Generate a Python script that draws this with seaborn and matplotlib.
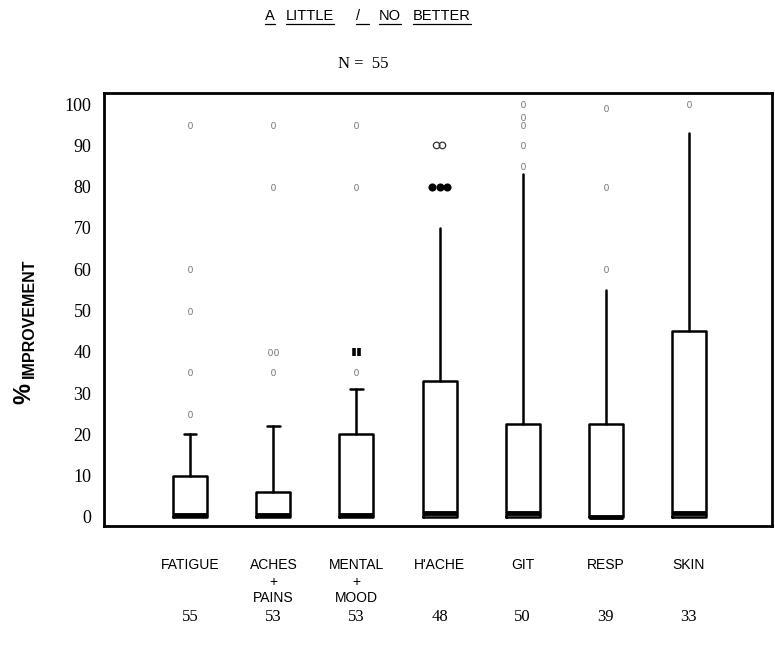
import matplotlib
matplotlib.use("Agg")
import matplotlib.pyplot as plt
import pandas as pd
import seaborn as sns

# box summaries (% improvement)
categories = ["FATIGUE", "ACHES\n+\nPAINS", "MENTAL\n+\nMOOD", "H'ACHE", "GIT", "RESP", "SKIN"]
counts = [55, 53, 53, 48, 50, 39, 33]
whisker_lo = [0, 0, 0, 0, 0, 0, 0]
q1 = [0, 0, 0, 0, 0, 0, 0]
median = [0.5, 0.5, 0.5, 1, 1, 0, 1]
q3 = [10, 6, 20, 33, 22.5, 22.5, 45]
whisker_hi = [20, 22, 31, 70, 83, 55, 93]
outliers = [
    [95, 60, 50, 35, 25],
    [95, 80, 40, 40, 35],
    [95, 80, 40, 40, 35],
    [90, 90, 80, 80, 80],
    [100, 97, 95, 90, 85],
    [99, 80, 60],
    [100],
]
outlier_kind = [
    ["o", "o", "o", "o", "o"],
    ["o", "o", "o", "o", "o"],
    ["o", "o", "bar", "bar", "o"],
    ["open", "open", "dot", "dot", "dot"],
    ["o", "o", "o", "o", "o"],
    ["o", "o", "o"],
    ["o"],
]
y_ticks = [0, 10, 20, 30, 40, 50, 60, 70, 80, 90, 100]
title_words = ["A", "LITTLE", "/", "NO", "BETTER"]
subtitle = "N =  55"

sns.set_style("white")
plt.rcParams["font.family"] = ["Liberation Sans", "DejaVu Sans"]
plt.rcParams["text.color"] = "black"
plt.rcParams["xtick.color"] = "black"
plt.rcParams["ytick.color"] = "black"
SERIF = ["Liberation Serif", "DejaVu Serif"]

fig = plt.figure(figsize=(7.75, 6.57), dpi=100)
ax = fig.add_axes([0.134, 0.1994, 0.862, 0.659])

stats = [
    dict(whislo=whisker_lo[i], q1=q1[i], med=median[i], q3=q3[i], whishi=whisker_hi[i], fliers=[])
    for i in range(len(categories))
]
art = ax.bxp(
    stats,
    positions=list(range(len(categories))),
    widths=0.41,
    showfliers=False,
    boxprops=dict(color="black", lw=1.8),
    whiskerprops=dict(color="black", lw=1.8),
    capprops=dict(color="black", lw=1.8),
    medianprops=dict(color="black", lw=3.5),
    capwidths=0.15,
)
for i, cap in enumerate(art["caps"]):
    # lower caps sit at zero; upper caps only visible on the first three
    if i % 2 == 0 or i // 2 > 2:
        cap.set_visible(False)

# outlier points, spread sideways when values repeat
rows = []
for i, (vals, kinds) in enumerate(zip(outliers, outlier_kind)):
    for j, (v, k) in enumerate(zip(vals, kinds)):
        same = [jj for jj, vv in enumerate(vals) if vv == v]
        n = len(same)
        step = 0.085 if k == "dot" else 0.07
        off = (same.index(j) - (n - 1) / 2) * step
        rows.append({"x": i + off, "y": v, "kind": k})
pts = pd.DataFrame(rows)

kind_style = {
    "o": dict(marker="$0$", color="#7a7a7a", s=26, linewidth=0),
    "open": dict(marker="o", facecolor="none", edgecolor="#333333", s=22, linewidth=0.9),
    "dot": dict(marker="o", color="black", s=34, linewidth=0),
    "bar": dict(marker="|", color="black", s=30, linewidth=2.6),
}
for k, st in kind_style.items():
    sub = pts[pts["kind"] == k]
    if len(sub):
        sns.scatterplot(data=sub, x="x", y="y", ax=ax, legend=False, zorder=3, **st)

ax.set_xlim(-1.04, 7.0)
ax.set_ylim(-2.2, 102.7)
ax.set_xlabel("")
ax.set_ylabel("")
ax.set_yticks(y_ticks)
ax.set_yticklabels([str(t) for t in y_ticks], family=SERIF, fontsize=13)
ax.set_xticks(list(range(len(categories))))
ax.set_xticklabels(categories, fontsize=10, linespacing=1.25, multialignment="center")
ax.tick_params(axis="y", length=0, pad=9)
ax.tick_params(axis="x", length=0, pad=23)
for sp in ax.spines.values():
    sp.set_visible(True)
    sp.set_color("black")
    sp.set_linewidth(2)

for i, c in enumerate(counts):
    ax.text(i, -0.21, str(c), transform=ax.get_xaxis_transform(),
            ha="center", va="center", family=SERIF, fontsize=12)

# y label: big bold percent sign under the word
fig.text(24 / 775, 1 - 394 / 657, "%", rotation=90, ha="center", va="center",
         fontsize=17, fontweight="bold")
fig.text(29 / 775, 1 - 318 / 657, "IMPROVEMENT", rotation=90, ha="center", va="center",
         fontsize=11.5, fontweight="bold")

# underlined title, one word at a time
word_x = [270, 310, 358, 390, 442]
word_objs = []
for w, xp in zip(title_words, word_x):
    t = fig.text(xp / 775, 1 - 16 / 657, w, ha="center", va="center", fontsize=10.5)
    word_objs.append(t)
fig.canvas.draw()
renderer = fig.canvas.get_renderer()
for w, t in zip(title_words, word_objs):
    bb = t.get_window_extent(renderer)
    x0, x1 = bb.x0, bb.x1
    if w == "/":
        x1 += 9
    yl = 1 - 24 / 657
    fig.add_artist(plt.Line2D([x0 / 775, x1 / 775], [yl, yl], color="black", lw=0.9))

fig.text(363 / 775, 1 - 64 / 657, subtitle, ha="center", va="center", family=SERIF, fontsize=12)

fig.savefig("out.png", dpi=100)
